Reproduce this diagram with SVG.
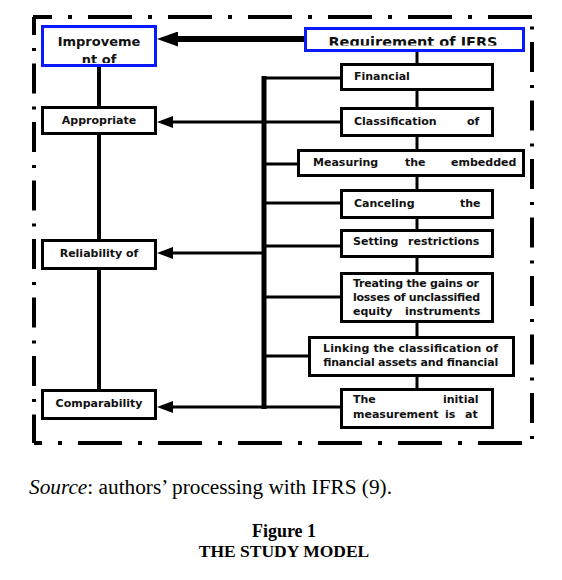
<svg xmlns="http://www.w3.org/2000/svg" width="562" height="580" viewBox="0 0 562 580">
<style>
.box{fill:#fff;stroke:#000;stroke-width:3}
.blue{fill:#fff;stroke:#0a1aff;stroke-width:3}
.t{font-family:"DejaVu Sans",Verdana,sans-serif;font-weight:bold;font-size:11px;fill:#111}
.c{text-anchor:middle}
.t13{font-size:13px}
.t14{font-size:14.5px}
.ln{stroke:#000;fill:none}
.bh{stroke:#000;stroke-width:4;fill:none;stroke-dasharray:44 16 4 16}
.bv{stroke:#000;stroke-width:4;fill:none;stroke-dasharray:30 13 3 12.5}
.cap{font-family:"Liberation Serif","Times New Roman",serif;fill:#000}
</style>
<defs>
<marker id="ah" markerUnits="userSpaceOnUse" markerWidth="16" markerHeight="12" refX="8" refY="6" orient="auto"><path d="M0,0 L16,6 L0,12 z" fill="#000"/></marker>
<marker id="ahb" markerUnits="userSpaceOnUse" markerWidth="21" markerHeight="15" refX="8" refY="7.5" orient="auto"><path d="M0,0 L21,7.5 L0,15 z" fill="#000"/></marker>
<clipPath id="clipImp"><rect x="44" y="28" width="110" height="35"/></clipPath>
<clipPath id="clipReq"><rect x="307" y="30" width="215" height="15.5"/></clipPath>
</defs>
<rect width="562" height="580" fill="#fff"/>
<g id="border">
<line class="bh" x1="33" y1="17" x2="532" y2="17" stroke-dashoffset="25"/>
<line class="bh" x1="34" y1="443" x2="532" y2="443" stroke-dashoffset="36"/>
<line class="bv" x1="34" y1="17" x2="34" y2="443" stroke-dashoffset="12"/>
<line class="bv" x1="532" y1="17" x2="532" y2="443" stroke-dashoffset="33.5"/>
</g>
<g id="connectors">
<line class="ln" stroke-width="4" x1="99" y1="66" x2="99" y2="390"/>
<line class="ln" stroke-width="3" x1="417" y1="51" x2="417" y2="390"/>
<line class="ln" stroke-width="5" x1="264" y1="76" x2="264" y2="409"/>
<line class="ln" stroke-width="6" x1="304" y1="39" x2="170" y2="39" marker-end="url(#ahb)"/>
<line class="ln" stroke-width="3" x1="264" y1="122" x2="165" y2="122" marker-end="url(#ah)"/>
<line class="ln" stroke-width="3" x1="264" y1="253" x2="165" y2="253" marker-end="url(#ah)"/>
<line class="ln" stroke-width="3" x1="264" y1="407" x2="165" y2="407" marker-end="url(#ah)"/>
<line class="ln" stroke-width="3" x1="262" y1="78" x2="341" y2="78"/>
<line class="ln" stroke-width="3" x1="264" y1="122" x2="341" y2="122"/>
<line class="ln" stroke-width="3" x1="264" y1="164" x2="298" y2="164"/>
<line class="ln" stroke-width="3" x1="264" y1="203" x2="341" y2="203"/>
<line class="ln" stroke-width="3" x1="264" y1="246" x2="341" y2="246"/>
<line class="ln" stroke-width="3" x1="264" y1="297" x2="341" y2="297"/>
<line class="ln" stroke-width="3" x1="264" y1="356" x2="309" y2="356"/>
<line class="ln" stroke-width="3" x1="264" y1="407" x2="341" y2="407"/>
</g>
<g id="improvement">
<rect class="blue" x="42.5" y="26.5" width="113" height="39"/>
<g clip-path="url(#clipImp)"><text class="t t13 c" x="99" y="46">Improveme</text><text class="t t13 c" x="99" y="64">nt of</text></g>
</g>
<g id="requirement">
<rect class="blue" x="305.5" y="28.5" width="218" height="22"/>
<g clip-path="url(#clipReq)"><text class="t t14 c" x="413" y="47">Requirement of IFRS</text></g>
</g>
<g id="appropriate"><rect class="box" x="42.5" y="107.5" width="113" height="26"/><text class="t c" x="99" y="124">Appropriate</text></g>
<g id="reliability"><rect class="box" x="42.5" y="240.5" width="113" height="28"/><text class="t c" x="99" y="257">Reliability of</text></g>
<g id="comparability"><rect class="box" x="42.5" y="390.5" width="113" height="28"/><text class="t c" x="99" y="407">Comparability</text></g>
<g id="financial"><rect class="box" x="341.5" y="64.5" width="151" height="25"/><text class="t" x="354" y="80">Financial</text></g>
<g id="classification"><rect class="box" x="341.5" y="108.5" width="151" height="27"/><text class="t" x="354" y="125">Classification</text><text class="t" x="467" y="125">of</text></g>
<g id="measuring"><rect class="box" x="298.5" y="150.5" width="225" height="25"/><text class="t" x="313" y="166">Measuring</text><text class="t" x="405" y="166">the</text><text class="t" x="451" y="166">embedded</text></g>
<g id="canceling"><rect class="box" x="341.5" y="190.5" width="151" height="27"/><text class="t" x="354" y="207">Canceling</text><text class="t" x="460" y="207">the</text></g>
<g id="setting"><rect class="box" x="341.5" y="230.5" width="151" height="26"/><text class="t" x="353" y="245">Setting</text><text class="t" x="408" y="245">restrictions</text></g>
<g id="treating"><rect class="box" x="341.5" y="273.5" width="151" height="48"/>
<text class="t" x="353" y="287" textLength="126" lengthAdjust="spacing">Treating the gains or</text>
<text class="t" x="353" y="301" textLength="127" lengthAdjust="spacing">losses of unclassified</text>
<text class="t" x="353" y="315">equity</text><text class="t" x="405" y="315">instruments</text></g>
<g id="linking"><rect class="box" x="309.5" y="337.5" width="204" height="38"/>
<text class="t" x="323" y="352" textLength="175" lengthAdjust="spacing">Linking the classification of</text>
<text class="t" x="323" y="366" textLength="175" lengthAdjust="spacing">financial assets and financial</text></g>
<g id="initial"><rect class="box" x="341.5" y="389.5" width="151" height="38"/>
<text class="t" x="353" y="403">The</text><text class="t" x="443" y="403">initial</text>
<text class="t" x="353" y="418">measurement</text><text class="t" x="445" y="418">is</text><text class="t" x="465" y="418">at</text></g>
<g id="caption">
<text class="cap" x="29" y="494" font-size="20" textLength="363" lengthAdjust="spacingAndGlyphs"><tspan font-style="italic">Source</tspan>: authors’ processing with IFRS (9).</text>
<text class="cap" x="284" y="537" font-size="18" font-weight="bold" text-anchor="middle">Figure 1</text>
<text class="cap" x="284" y="557" font-size="17.5" font-weight="bold" text-anchor="middle">THE STUDY MODEL</text>
</g>
</svg>
